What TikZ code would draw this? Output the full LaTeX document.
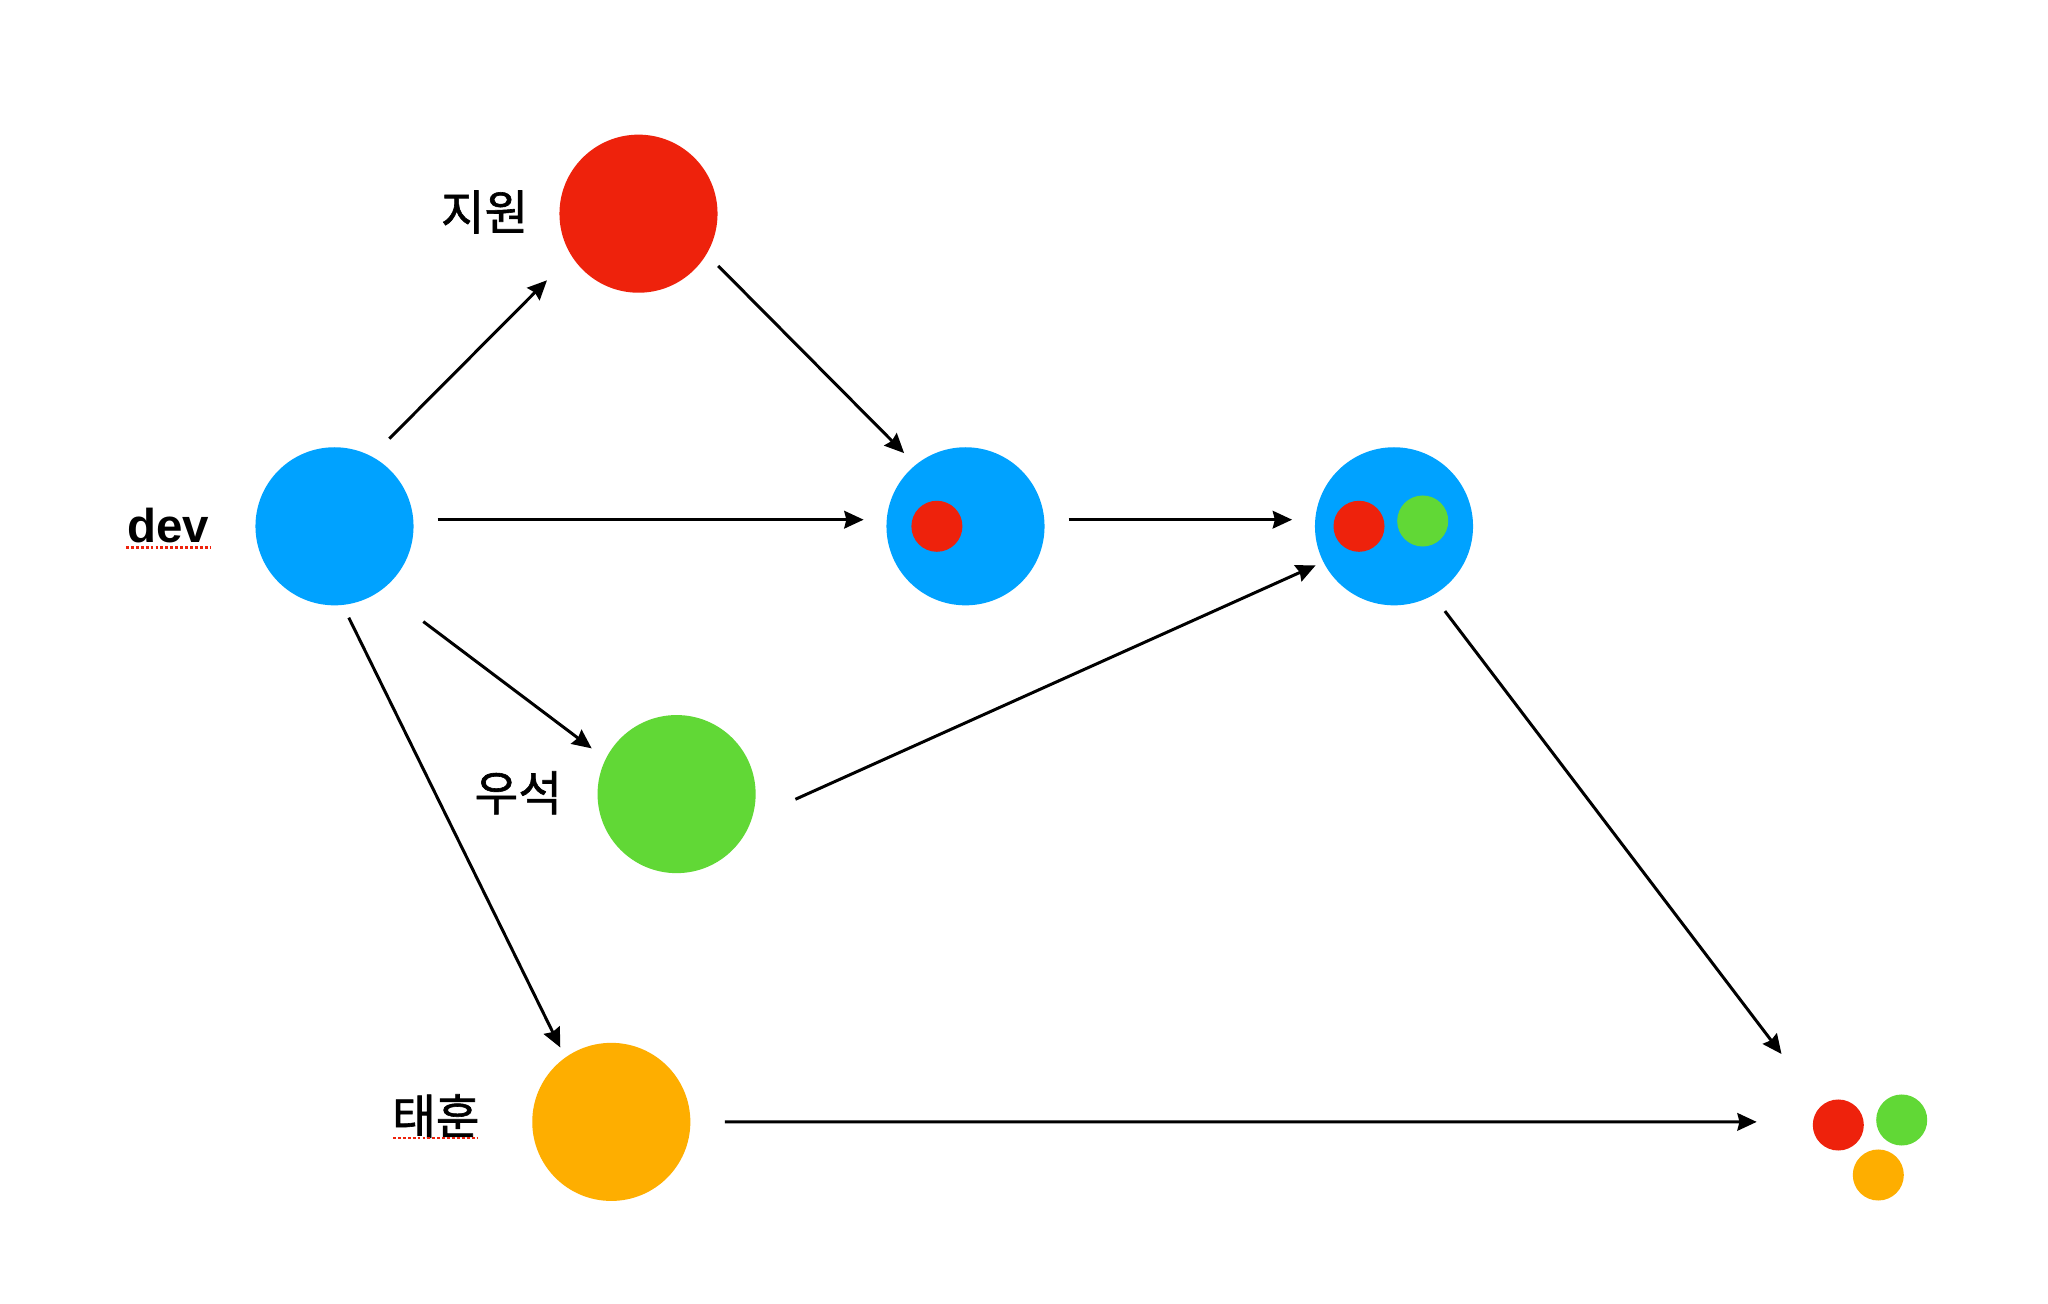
\documentclass[tikz,border=0pt]{standalone}
\usepackage{fontspec}
\setmainfont{Liberation Sans}
\newfontfamily\kr[FakeBold=1.3]{Noto Sans CJK KR}
\usetikzlibrary{arrows.meta}
\definecolor{cblue}{HTML}{00A2FF}
\definecolor{cred}{HTML}{EE220C}
\definecolor{cgreen}{HTML}{61D836}
\definecolor{corange}{HTML}{FEAE00}
\begin{document}
\begin{tikzpicture}[x=0.01cm,y=-0.01cm,
  big/.style={circle,inner sep=0pt,minimum size=1.58cm},
  small/.style={circle,inner sep=0pt,minimum size=0.51cm},
  lbl/.style={inner sep=0pt,font=\kr\fontsize{13.5}{16}\selectfont},
  arr/.style={line width=0.85pt,-{Stealth[length=5.5pt,width=5pt,inset=0.6pt]}},
  squig/.style={cred,line width=0.8pt,dash pattern=on 0.8pt off 0.6pt}]
\useasboundingbox[fill=white] (0,0) rectangle (2048,1304);
% main circles
\node[big,fill=cblue] (dev) at (334.5,526.3) {};
\node[big,fill=cred] (jw) at (638.5,213.7) {};
\node[big,fill=cblue] (c3) at (965.5,526.3) {};
\node[big,fill=cblue] (c4) at (1394,526.3) {};
\node[big,fill=cgreen] (ws) at (676.6,794.1) {};
\node[big,fill=corange] (th) at (611.3,1121.9) {};
% inner dots
\node[small,fill=cred] (c3r) at (936.9,526.3) {};
\node[small,fill=cred] (c4r) at (1359,526.3) {};
\node[small,fill=cgreen] (c4g) at (1422.7,521) {};
% final dots
\node[small,fill=cred] (fr) at (1838.3,1125) {};
\node[small,fill=cgreen] (fg) at (1901.7,1120) {};
\node[small,fill=corange] (fo) at (1878.3,1175) {};
% labels
\node[inner sep=0pt,font=\bfseries\fontsize{13.5}{16}\selectfont] (ldev) at (168,525.5) {dev};
\node[lbl] (ljw) at (484.6,212) {지원};
\node[lbl] (lws) at (518.3,792.8) {우석};
\node[lbl] (lth) at (435.8,1116) {태훈};
\coordinate (u1a) at (126,547.7);
\coordinate (u1b) at (211,547.7);
\coordinate (u2a) at (393,1138);
\coordinate (u2b) at (478,1138);
\draw[squig] (u1a) -- (u1b);
\draw[squig] (u2a) -- (u2b);
% arrows
\draw[arr] ([shift={(54.8,-87.6)}]dev.center) -- ([shift={(-91.5,66.6)}]jw.center);
\draw[arr] ([shift={(79.7,52.2)}]jw.center) -- ([shift={(-61.4,-73.2)}]c3.center);
\draw[arr] ([shift={(103.1,-6.6)}]dev.center) -- ([shift={(-101.9,-6.6)}]c3.center);
\draw[arr] ([shift={(103.2,-6.6)}]c3.center) -- ([shift={(-101.9,-6.6)}]c4.center);
\draw[arr] ([shift={(88.8,95.3)}]dev.center) -- ([shift={(-84.9,-45.7)}]ws.center);
\draw[arr] ([shift={(118.8,5.2)}]ws.center) -- ([shift={(-78.4,39.1)}]c4.center);
\draw[arr] ([shift={(14.3,91.4)}]dev.center) -- ([shift={(-51,-74.4)}]th.center);
\draw[arr] ([shift={(50.9,84.8)}]c4.center) -- ([shift={(-56.8,-71)}]fr.center);
\draw[arr] ([shift={(113.6,0)}]th.center) -- ([shift={(-81.6,-3.1)}]fr.center);
\end{tikzpicture}
\end{document}
